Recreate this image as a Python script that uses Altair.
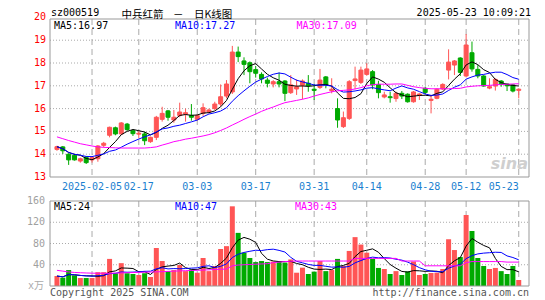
import altair as alt
import pandas as pd

# ---------------- data ----------------
opens = [14.21, 14.32, 14.00, 13.95, 13.70, 13.86, 13.75, 13.80, 14.39, 14.83,
         15.16, 14.89, 15.32, 15.03, 14.88, 14.89, 14.55, 14.74, 15.53, 15.90,
         15.50, 15.70, 15.76, 15.70, 15.53, 15.79, 15.85, 16.00, 16.20, 16.55,
         16.73, 18.48, 18.09, 18.01, 17.71, 17.50, 17.25, 17.08, 17.18, 17.21,
         16.70, 16.86, 17.02, 17.11, 16.85, 16.93, 17.39, 16.79, 16.00, 15.21,
         15.57, 17.23, 17.15, 17.50, 17.62, 17.06, 16.51, 16.52, 16.44, 16.67,
         16.63, 16.30, 16.58, 16.89, 16.36, 16.45, 16.86, 17.69, 17.91, 18.22,
         17.43, 18.45, 17.72, 17.43, 16.90, 16.99, 17.21, 17.08, 17.04, 16.80]
highs = [14.37, 14.36, 14.04, 14.01, 13.85, 13.92, 13.89, 14.40, 14.54, 15.21,
         15.21, 15.41, 15.37, 15.09, 15.02, 14.99, 14.77, 15.68, 16.08, 15.94,
         15.94, 16.26, 16.00, 16.20, 15.75, 16.23, 16.00, 16.30, 17.06, 17.25,
         18.75, 18.72, 18.25, 18.07, 17.87, 17.59, 17.36, 17.25, 17.58, 17.25,
         17.47, 17.28, 17.28, 17.47, 17.08, 17.74, 17.43, 17.33, 16.45, 15.87,
         17.25, 17.84, 17.84, 17.99, 17.69, 17.22, 16.74, 16.74, 16.74, 16.77,
         16.67, 16.77, 16.67, 16.96, 16.60, 16.89, 17.11, 18.60, 18.13, 18.25,
         19.27, 18.94, 17.91, 17.47, 17.33, 17.33, 17.25, 17.11, 17.08, 16.89]
lows = [14.15, 14.01, 13.53, 13.72, 13.63, 13.57, 13.63, 13.67, 14.30, 14.74,
        14.83, 14.86, 15.02, 14.80, 14.70, 14.40, 14.50, 14.62, 15.43, 15.47,
        15.38, 15.62, 15.43, 15.47, 15.47, 15.68, 15.79, 15.94, 16.11, 16.45,
        16.64, 18.04, 17.47, 17.11, 17.36, 17.11, 16.93, 16.93, 16.93, 16.33,
        16.64, 16.60, 16.41, 16.74, 16.38, 16.86, 16.89, 16.67, 15.16, 15.15,
        15.50, 16.85, 17.08, 17.44, 16.85, 16.45, 16.45, 16.26, 16.30, 16.42,
        16.26, 16.26, 16.38, 16.64, 15.79, 16.41, 16.82, 17.28, 17.47, 17.43,
        17.37, 17.62, 17.33, 16.96, 16.85, 16.79, 16.96, 16.77, 16.71, 16.45]
closes = [14.33, 14.15, 13.75, 13.75, 13.80, 13.63, 13.85, 14.36, 14.48, 15.18,
          14.89, 15.37, 15.08, 14.90, 14.92, 14.59, 14.74, 15.62, 15.79, 15.62,
          15.62, 15.85, 15.82, 15.62, 15.69, 16.04, 15.94, 16.20, 16.52, 17.08,
          18.48, 18.28, 17.94, 17.62, 17.55, 17.30, 17.11, 17.18, 17.08, 16.67,
          17.04, 16.96, 17.21, 17.00, 16.80, 17.25, 17.04, 16.85, 15.50, 15.60,
          17.18, 17.30, 17.69, 17.74, 17.04, 16.70, 16.60, 16.48, 16.67, 16.55,
          16.30, 16.73, 16.64, 16.71, 16.41, 16.85, 17.06, 18.04, 18.09, 17.59,
          18.79, 17.74, 17.43, 16.99, 16.96, 17.28, 17.06, 17.00, 16.77, 16.85]
volumes = [18.8, 15.7, 30, 20, 15, 15, 15, 26, 26, 51,
           24, 43, 24, 22.6, 20.7, 24, 17, 71.5, 47, 28,
           30, 39.5, 28, 31, 25, 52.7, 28, 37.6, 69.6, 75,
           150, 100, 62.7, 52.7, 45, 47, 45, 46, 47, 44,
           50, 25, 34.5, 22.6, 27, 47, 28, 30, 51, 37.6,
           66, 92, 78, 62.7, 51, 34, 32, 22.6, 28, 20.7,
           27.6, 46, 20.7, 22.6, 24.5, 25, 32, 88, 67.7, 54.5,
           133.6, 103.5, 52.7, 37.6, 32, 34, 28, 22.6, 37.6, 11.3]
ma30 = [14.76, 14.68, 14.60, 14.53, 14.46, 14.41, 14.36, 14.32, 14.30, 14.29,
        14.28, 14.27, 14.27, 14.27, 14.27, 14.27, 14.29, 14.32, 14.40, 14.47,
        14.55, 14.60, 14.66, 14.70, 14.75, 14.80, 14.86, 14.94, 15.04, 15.15,
        15.28, 15.40, 15.53, 15.65, 15.76, 15.88, 15.98, 16.07, 16.17, 16.26,
        16.31, 16.36, 16.41, 16.47, 16.55, 16.62, 16.68, 16.74, 16.78, 16.80,
        16.82, 16.86, 16.92, 17.00, 17.05, 17.07, 17.07, 17.07, 17.08, 17.08,
        17.02, 16.96, 16.92, 16.89, 16.87, 16.87, 16.87, 16.87, 16.88, 16.89,
        16.95, 16.98, 17.00, 17.01, 17.02, 17.04, 17.06, 17.07, 17.08, 17.09]
vol_ma30 = [29.5, 28, 26.5, 25.5, 25, 24.5, 24.2, 24, 24, 24,
            24.3, 24.6, 25, 25.3, 25.6, 26, 26.3, 26.6, 27, 27.5,
            28, 28.4, 28.8, 29.2, 29.6, 30, 30.5, 31, 31.5, 32,
            38, 39.5, 40, 40.5, 41, 41.5, 42, 44, 45, 46,
            46.5, 47, 47, 47, 47, 47, 47, 47, 47, 47,
            47, 52, 52, 52, 52, 52, 52, 52, 52, 47,
            47, 47, 47, 38, 38, 38, 38, 38, 38, 38,
            44, 46, 46, 46, 46, 46, 46, 45, 45, 45]

tick_idx = [6, 14, 24, 34, 44, 53, 63, 70]
tick_lbl = ["2025-02-05", "02-17", "03-03", "03-17", "03-31", "04-14", "04-28", "05-12"]
last_idx = [79]
last_lbl = ["05-23"]
price_ticks = [13, 14, 15, 16, 17, 18, 19, 20]
price_grid = [14, 15, 16, 17, 18, 19]
vol_ticks = [40, 80, 120, 160]
vol_grid = [40, 80, 120]

code_txt = "sz000519"
title_parts = ["中兵红箭", "－", "日K线图"]
time_txt = "2025-05-23 10:09:21"
ma_txt = ["MA5:16.97", "MA10:17.27", "MA30:17.09"]
vma_txt = ["MA5:24", "MA10:47", "MA30:43"]
unit_txt = "x万"
copy_txt = "Copyright 2025 SINA.COM"
url_txt = "http://finance.sina.com.cn"

# ---------------- tables ----------------
df = pd.DataFrame({"i": list(range(len(closes))), "o": opens, "h": highs,
                   "l": lows, "c": closes, "v": volumes,
                   "ma30": ma30, "vma30": vol_ma30})
ticks_df = pd.DataFrame({"i": tick_idx, "lbl": tick_lbl})
all_ticks_df = pd.DataFrame({"i": tick_idx + last_idx})
last_df = pd.DataFrame({"i": last_idx, "lbl": last_lbl})
pt_df = pd.DataFrame({"p": price_ticks})
pg_df = pd.DataFrame({"p": price_grid})
vt_df = pd.DataFrame({"p": vol_ticks})
vg_df = pd.DataFrame({"p": vol_grid})
one = pd.DataFrame({"k": [0]})

# ---------------- layout ----------------
W, H = 479, 267
MAIN_H = 158
VOL_TOP, VOL_BOT = 182, 267
RED, GREEN = "#ff5555", "#00aa00"
GRID = "#aaaaaa"
FRAME = "#999999"
MONO = "DejaVu Sans Mono"
CJK = "Noto Sans CJK SC"

xs = alt.Scale(domain=[-0.335, 79.9], nice=False, zero=False)
py = alt.Scale(domain=[13, 19.93], range=[MAIN_H, 0], nice=False, zero=False)
vy = alt.Scale(domain=[0, 160], range=[VOL_BOT, VOL_TOP], nice=False, zero=False)
X = alt.X("i:Q", scale=xs, axis=None)
col = alt.Color("dir:N", scale=alt.Scale(domain=["up", "down"], range=[RED, GREEN]), legend=None)
stk = alt.Stroke("dir:N", scale=alt.Scale(domain=["up", "down"], range=[RED, GREEN]), legend=None)

base = alt.Chart(df).transform_calculate(dir="datum.c >= datum.o ? 'up' : 'down'")

# grids
pgrid = alt.Chart(pg_df).mark_rule(color=GRID, strokeDash=[1, 2], strokeWidth=1).encode(
    y=alt.Y("p:Q", scale=py, axis=None), x=alt.value(0), x2=alt.value(W))
vgrid = alt.Chart(vg_df).mark_rule(color=GRID, strokeDash=[1, 2], strokeWidth=1).encode(
    y=alt.Y("p:Q", scale=vy, axis=None), x=alt.value(0), x2=alt.value(W))
dgrid1 = alt.Chart(all_ticks_df).mark_rule(color=GRID, strokeDash=[6, 4], strokeWidth=1).encode(
    x=X, y=alt.value(0), y2=alt.value(MAIN_H))
dgrid2 = alt.Chart(all_ticks_df).mark_rule(color=GRID, strokeDash=[6, 4], strokeWidth=1).encode(
    x=X, y=alt.value(VOL_TOP), y2=alt.value(VOL_BOT))

# candles
wicks = base.mark_rule(strokeWidth=1).encode(
    x=X, y=alt.Y("l:Q", scale=py, axis=None), y2="h:Q", color=col)
bodies = base.mark_bar(size=4, strokeWidth=1).encode(
    x=X, y=alt.Y("o:Q", scale=py, axis=None), y2="c:Q", color=col, stroke=stk)

# price moving averages
ma5_line = alt.Chart(df).transform_window(
    m="mean(c)", frame=[-4, 0], sort=[alt.SortField("i")]).mark_line(
    color="black", strokeWidth=1).encode(x=X, y=alt.Y("m:Q", scale=py, axis=None))
ma10_line = alt.Chart(df).transform_window(
    m="mean(c)", frame=[-9, 0], sort=[alt.SortField("i")]).mark_line(
    color="#0000ff", strokeWidth=1).encode(x=X, y=alt.Y("m:Q", scale=py, axis=None))
ma30_line = alt.Chart(df).mark_line(color="#ff00ff", strokeWidth=1).encode(
    x=X, y=alt.Y("ma30:Q", scale=py, axis=None))

# volume
vbars = base.mark_bar(size=5).encode(x=X, y=alt.Y("v:Q", scale=vy, axis=None), color=col)
vma5_line = alt.Chart(df).transform_window(
    m="mean(v)", frame=[-4, 0], sort=[alt.SortField("i")]).mark_line(
    color="black", strokeWidth=1).encode(x=X, y=alt.Y("m:Q", scale=vy, axis=None))
vma10_line = alt.Chart(df).transform_window(
    m="mean(v)", frame=[-9, 0], sort=[alt.SortField("i")]).mark_line(
    color="#0000ff", strokeWidth=1).encode(x=X, y=alt.Y("m:Q", scale=vy, axis=None))
vma30_line = alt.Chart(df).mark_line(color="#ff00ff", strokeWidth=1).encode(
    x=X, y=alt.Y("vma30:Q", scale=vy, axis=None))

# frames
frame1 = alt.Chart(one).mark_rect(fillOpacity=0, stroke=FRAME, strokeWidth=1).encode(
    x=alt.value(0), x2=alt.value(W), y=alt.value(0), y2=alt.value(MAIN_H))
frame2 = alt.Chart(one).mark_rect(fillOpacity=0, stroke=FRAME, strokeWidth=1).encode(
    x=alt.value(0), x2=alt.value(W), y=alt.value(VOL_TOP), y2=alt.value(VOL_BOT))

# axis-like labels
plabels = alt.Chart(pt_df).mark_text(font=MONO, fontSize=10, color="#ff0000", align="right",
                                     baseline="middle").encode(
    y=alt.Y("p:Q", scale=py, axis=None), x=alt.value(-4), text="p:Q")
vlabels = alt.Chart(vt_df).mark_text(font=MONO, fontSize=10, color="#a0a0a0", align="right",
                                     baseline="middle").encode(
    y=alt.Y("p:Q", scale=vy, axis=None), x=alt.value(-5), text="p:Q")
dlabels = alt.Chart(ticks_df).mark_text(font=MONO, fontSize=10, color="#1a7fd0", align="center",
                                        baseline="alphabetic").encode(
    x=X, y=alt.value(171), text="lbl:N")
dlast = alt.Chart(last_df).mark_text(font=MONO, fontSize=10, color="#1a7fd0", align="right",
                                     baseline="alphabetic").encode(
    x=X, y=alt.value(171), text="lbl:N")


def label(txt, x, y, color="black", align="left", font=MONO, size=10, **kw):
    return alt.Chart(one).mark_text(font=font, fontSize=size, color=color, align=align,
                                    baseline="alphabetic", **kw).encode(
        x=alt.value(x), y=alt.value(y), text=alt.value(txt))


texts = [
    label(code_txt, 1, -3),
    label(title_parts[0], 71.5, -1, font=CJK, size=10.5),
    label(title_parts[1], 123, -1, font=CJK, size=10.5),
    label(title_parts[2], 144, -1, font=CJK, size=10.5),
    label(time_txt, 481, -3, align="right"),
    label(ma_txt[0], 4, 9.5),
    label(ma_txt[1], 125, 9.5, color="#0000ff"),
    label(ma_txt[2], 246.5, 9.5, color="#ff00ff"),
    label(vma_txt[0], 4, 191),
    label(vma_txt[1], 125, 191, color="#0000ff"),
    label(vma_txt[2], 245, 191, color="#ff00ff"),
    label(unit_txt, -6, 270, color="#aaaaaa", align="right",
          font="DejaVu Sans Mono, Noto Sans CJK SC", size=10),
    label(copy_txt, 0, 276.5, color="#555555"),
    label(url_txt, 479, 276.5, color="#555555", align="right"),
    label("sina", 478, 150, color="#cfcfcf", align="right", font="DejaVu Sans",
          size=16, fontStyle="italic", fontWeight="bold"),
]

chart = alt.layer(
    pgrid, vgrid, dgrid1, dgrid2,
    wicks, bodies, ma5_line, ma10_line, ma30_line,
    vbars, vma5_line, vma10_line, vma30_line,
    frame1, frame2,
    plabels, vlabels, dlabels, dlast,
    *texts,
).resolve_scale(y="independent").properties(
    width=W, height=H,
    autosize=alt.AutoSizeParams(type="none"),
    padding={"left": 42, "top": 11, "right": 8, "bottom": 14},
).configure_view(strokeWidth=0)

chart.save("out.html", embed_options={"renderer": "svg", "actions": False})
